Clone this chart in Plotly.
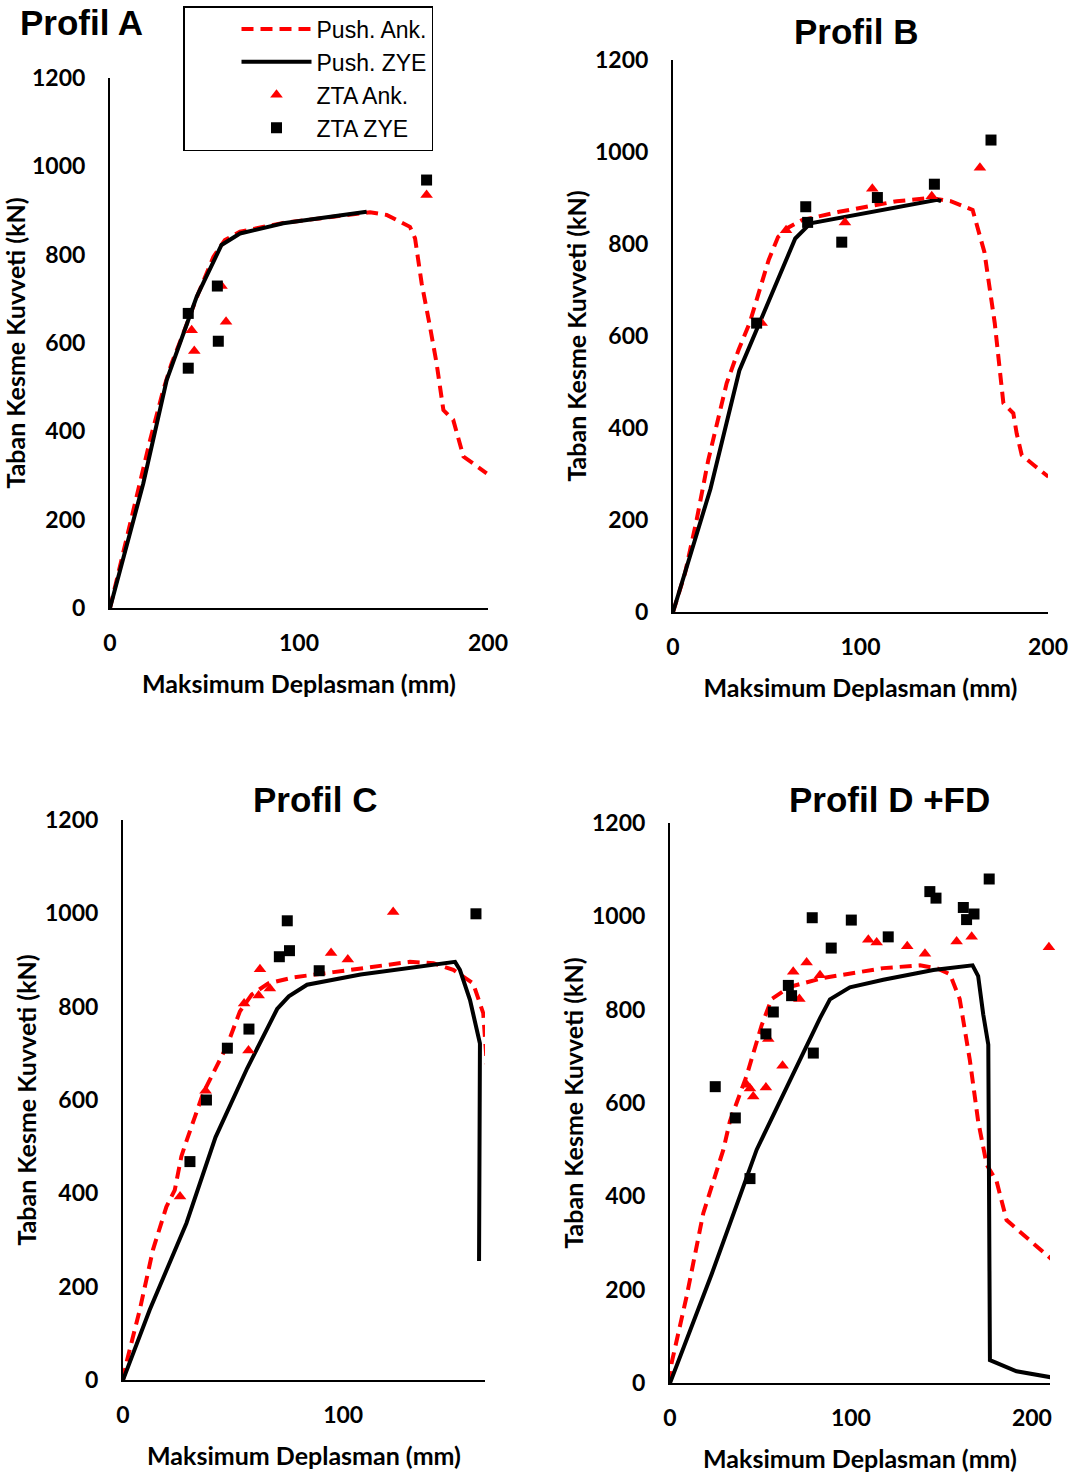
import plotly.graph_objects as go

# ---------------- data (displacement in mm, base shear in kN) ----------------
# Profil A
a_push_ank_x = [0, 12.3, 21.2, 28.2, 32.6, 38.8, 46.7, 54.7, 60.8, 68.8, 91.7, 118.2, 137.6, 146.4, 158.7, 161.4, 164.9, 169.3, 172.8, 176.4, 181.6, 187.0, 199.3]
a_push_ank_y = [0, 222, 380, 494, 554, 622, 712, 795, 833, 852, 872, 886, 896, 890, 863, 837, 735, 637, 554, 448, 426, 343, 305]
a_push_zye_x = [0, 17.6, 30.0, 45.9, 59.0, 68.8, 91.7, 135.8]
a_push_zye_y = [0, 282, 516, 705, 822, 848, 871, 897]
a_zta_ank_x = [43.2, 44.6, 61.4, 59.0, 167.5]
a_zta_ank_y = [629, 582, 648, 729, 935]
a_zta_zye_x = [41.4, 41.4, 56.8, 57.3, 167.5]
a_zta_zye_y = [667, 543, 729, 604, 969]

# Profil B
b_push_ank_x = [0, 6.4, 12.6, 18.8, 28.6, 35.0, 41.0, 46.0, 51.0, 56.0, 61.6, 68.8, 88.6, 119.3, 137.3, 148.1, 159.8, 166.1, 171.6, 176.2, 181.5, 183.3, 186.0, 192.2, 200.2]
b_push_ank_y = [0, 84, 200, 330, 497, 570, 630, 700, 765, 815, 836, 852, 870, 893, 900, 893, 874, 782, 628, 454, 432, 388, 341, 320, 294]
b_push_zye_x = [0, 14.4, 20.0, 35.4, 65.2, 70.6, 73.3, 140.9, 143.0]
b_push_zye_y = [0, 193, 268, 525, 812, 834, 845, 896, 893]
b_zta_ank_x = [47.3, 60.3, 91.7, 106.3, 138.0, 163.7]
b_zta_ank_y = [628, 830, 847, 920, 904, 966]
b_zta_zye_x = [44.6, 70.8, 71.8, 90.0, 109.0, 139.4, 169.6]
b_zta_zye_y = [628, 881, 847, 804, 901, 930, 1026]

# Profil C
c_push_ank_x = [0, 1.5, 7.6, 13.6, 19.7, 23.5, 26.5, 28.3, 36.5, 47.3, 53.1, 58.5, 66.0, 77.6, 95.6, 118.5, 130.3, 141.0, 150.0, 159.0, 163.6, 165.2, 166.0]
c_push_ank_y = [0, 36, 150, 279, 371, 407, 479, 505, 616, 717, 790, 826, 850, 863, 874, 888, 896, 893, 879, 850, 786, 679, 640]
c_push_zye_x = [0, 12.1, 28.8, 42.0, 56.4, 70.0, 75.3, 83.6, 107.9, 150.8, 153.0, 157.6, 162.1, 161.7]
c_push_zye_y = [0, 150, 336, 520, 668, 795, 822, 847, 869, 896, 879, 814, 721, 255]
c_zta_ank_x = [25.9, 37.5, 55.0, 61.6, 66.7, 57.0, 62.2, 94.5, 102.1, 122.7]
c_zta_ank_y = [393, 620, 807, 824, 839, 706, 880, 915, 901, 1003]
c_zta_zye_x = [30.4, 37.9, 47.4, 57.2, 71.0, 75.6, 74.6, 89.1, 160.3]
c_zta_zye_y = [468, 600, 711, 752, 907, 920, 984, 877, 999]

# Profil D +FD
d_push_ank_x = [0, 0.9, 9.2, 18.4, 29.5, 33.1, 42.4, 50.6, 56.2, 66.3, 84.7, 117.9, 138.1, 148.0, 154.7, 160.1, 165.7, 170.3, 175.0, 180.5, 186.0, 200.7, 210.9]
d_push_ank_y = [0, 43, 186, 364, 500, 561, 659, 766, 823, 849, 868, 889, 895, 888, 876, 823, 692, 561, 468, 432, 349, 299, 265]
d_push_zye_x = [0, 23.0, 47.9, 53.4, 66.3, 82.9, 88.4, 99.4, 117.9, 145.5, 167.2, 170.3, 173.1, 175.9, 176.8, 191.5, 210.9]
d_push_zye_y = [0, 233, 500, 545, 651, 782, 822, 848, 864, 885, 895, 872, 790, 725, 49, 25, 12]
d_zta_ank_x = [209.4, 166.7, 158.4, 140.9, 131.1, 114.2, 109.6, 82.9, 75.5, 68.1, 71.5, 54.3, 62.2, 53.0, 42.4, 44.2, 46.0]
d_zta_ank_y = [934, 956, 946, 920, 936, 944, 950, 874, 901, 881, 823, 737, 680, 633, 639, 631, 614]
d_zta_zye_x = [176.4, 143.6, 147.0, 162.1, 168.0, 163.9, 78.6, 100.2, 120.6, 89.1, 65.4, 67.2, 57.1, 53.0, 79.2, 25.0, 36.1, 44.2]
d_zta_zye_y = [1080, 1053, 1039, 1019, 1005, 993, 997, 992, 956, 932, 852, 830, 795, 748, 707, 635, 568, 438]

series_names = ["Push. Ank.", "Push. ZYE", "ZTA Ank.", "ZTA ZYE"]
panel_titles = ["Profil A", "Profil B", "Profil C", "Profil D +FD"]
y_tick_vals = [0, 200, 400, 600, 800, 1000, 1200]
x_tick_vals = [0, 100, 200]
x_title = "Maksimum Deplasman (mm)"
y_title = "Taban Kesme Kuvveti (kN)"

panels = [
    (a_push_ank_x, a_push_ank_y, a_push_zye_x, a_push_zye_y, a_zta_ank_x, a_zta_ank_y, a_zta_zye_x, a_zta_zye_y),
    (b_push_ank_x, b_push_ank_y, b_push_zye_x, b_push_zye_y, b_zta_ank_x, b_zta_ank_y, b_zta_zye_x, b_zta_zye_y),
    (c_push_ank_x, c_push_ank_y, c_push_zye_x, c_push_zye_y, c_zta_ank_x, c_zta_ank_y, c_zta_zye_x, c_zta_zye_y),
    (d_push_ank_x, d_push_ank_y, d_push_zye_x, d_push_zye_y, d_zta_ank_x, d_zta_ank_y, d_zta_zye_x, d_zta_zye_y),
]

# ---------------- layout geometry (pixels in a 1083 x 1476 page) ----------------
W, H = 1083, 1476
# (left, right, bottom, top) pixel edges of each plot area, and x-axis maximum
plot_boxes = [
    (110, 488, 608, 78),
    (673, 1048, 612, 60),
    (123, 485, 1380, 820),
    (670, 1050, 1383, 823),
]
x_max = [200, 200, 164.4, 210]
title_pos = [(81, 22), (856, 31), (315, 799), (889, 799)]

RED = "#FF0000"
BLACK = "#000000"
tick_font = dict(family="Lato", size=23, color=BLACK, weight="bold")
axis_title_font = dict(family="Lato", size=25, color=BLACK, weight="bold")

fig = go.Figure()
layout_axes = {}
annotations = []

for i, (pax, pay, pzx, pzy, tax, tay, tzx, tzy) in enumerate(panels):
    n = "" if i == 0 else str(i + 1)
    xa, ya = "x" + n, "y" + n
    show = i == 0

    fig.add_trace(go.Scatter(
        x=pax, y=pay, mode="lines", name=series_names[0], legendgroup="pa",
        showlegend=show, xaxis=xa, yaxis=ya,
        line=dict(color=RED, width=4, dash="12px,7px")))
    fig.add_trace(go.Scatter(
        x=pzx, y=pzy, mode="lines", name=series_names[1], legendgroup="pz",
        showlegend=show, xaxis=xa, yaxis=ya,
        line=dict(color=BLACK, width=4)))
    fig.add_trace(go.Scatter(
        x=tax, y=tay, mode="markers", name=series_names[2], legendgroup="ta",
        showlegend=show, xaxis=xa, yaxis=ya, cliponaxis=False,
        marker=dict(symbol="triangle-up", size=11, color=RED)))
    fig.add_trace(go.Scatter(
        x=tzx, y=tzy, mode="markers", name=series_names[3], legendgroup="tz",
        showlegend=show, xaxis=xa, yaxis=ya, cliponaxis=False,
        marker=dict(symbol="square", size=11, color=BLACK)))

    left, right, bottom, top = plot_boxes[i]
    xdom = [left / W, right / W]
    ydom = [1 - bottom / H, 1 - top / H]
    layout_axes["xaxis" + n] = dict(
        domain=xdom, range=[0, x_max[i]], anchor=ya, automargin=False,
        tickvals=[v for v in x_tick_vals if v <= x_max[i]],
        showgrid=False, zeroline=False, showline=True, linecolor=BLACK, linewidth=2,
        ticks="", tickfont=tick_font, ticklabelstandoff=13,
        title=dict(text=x_title, font=axis_title_font, standoff=21),
    )
    layout_axes["yaxis" + n] = dict(
        domain=ydom, range=[0, 1200], anchor=xa, automargin=False,
        tickvals=y_tick_vals,
        showgrid=False, zeroline=False, showline=True, linecolor=BLACK, linewidth=2,
        ticks="", tickfont=tick_font, ticklabelstandoff=18,
        title=dict(text=y_title, font=axis_title_font, standoff=1),
    )

    tx, ty = title_pos[i]
    annotations.append(dict(
        text=panel_titles[i], x=tx / W, y=1 - ty / H, xref="paper", yref="paper",
        xanchor="center", yanchor="middle", showarrow=False,
        font=dict(family="Liberation Sans", size=35, color=BLACK, weight="bold"),
    ))

fig.update_layout(
    width=W, height=H,
    margin=dict(l=0, r=0, t=0, b=0, autoexpand=False),
    paper_bgcolor="white", plot_bgcolor="white",
    showlegend=True,
    legend=dict(
        x=183 / W, y=1 - 6 / H, xanchor="left", yanchor="top",
        bgcolor="white", bordercolor=BLACK, borderwidth=1.5,
        font=dict(family="Liberation Sans", size=23, color=BLACK),
        itemwidth=70, indentation=52, tracegroupgap=0,
    ),
    annotations=annotations,
    **layout_axes,
)

fig.write_html("out.html")
